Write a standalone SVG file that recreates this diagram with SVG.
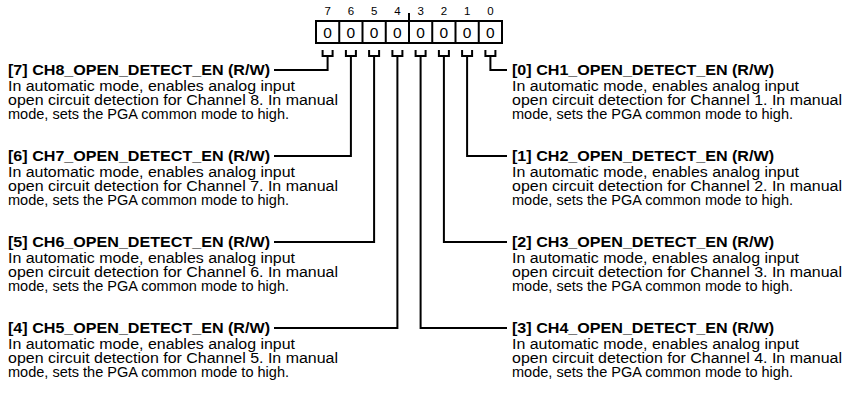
<svg xmlns="http://www.w3.org/2000/svg" width="845" height="395" viewBox="0 0 845 395">
<style>
.bn{font-family:"Liberation Sans",Arial,sans-serif;font-size:11.5px;fill:#000;text-anchor:middle}
.bv{font-family:"Liberation Sans",Arial,sans-serif;font-size:15.5px;fill:#000;text-anchor:middle}
.h{font-family:"Liberation Sans",Arial,sans-serif;font-size:15.5px;font-weight:bold;fill:#000}
.t{font-family:"Liberation Sans",Arial,sans-serif;font-size:15.5px;fill:#000}
.ln{fill:none;stroke:#000;stroke-width:2}
</style>
<rect width="845" height="395" fill="#fff"/>
<g id="register">
<rect class="ln" x="316" y="21" width="186" height="22"/>
<path class="ln" d="M339.25,21V43M362.5,21V43M385.75,21V43M409,13V43M432.25,21V43M455.5,21V43M478.75,21V43"/>
<text class="bn" x="327.6" y="15">7</text>
<text class="bn" x="350.9" y="15">6</text>
<text class="bn" x="374.1" y="15">5</text>
<text class="bn" x="397.4" y="15">4</text>
<text class="bn" x="420.6" y="15">3</text>
<text class="bn" x="443.9" y="15">2</text>
<text class="bn" x="467.1" y="15">1</text>
<text class="bn" x="490.4" y="15">0</text>
<text class="bv" x="327.6" y="37.5">0</text>
<text class="bv" x="350.9" y="37.5">0</text>
<text class="bv" x="374.1" y="37.5">0</text>
<text class="bv" x="397.4" y="37.5">0</text>
<text class="bv" x="420.6" y="37.5">0</text>
<text class="bv" x="443.9" y="37.5">0</text>
<text class="bv" x="467.1" y="37.5">0</text>
<text class="bv" x="490.4" y="37.5">0</text>
</g>
<g id="connectors">
<path class="ln" d="M322.6,50V56H332.6V50M327.6,56V70H274"/>
<path class="ln" d="M345.9,50V56H355.9V50M350.9,56V156H274"/>
<path class="ln" d="M369.1,50V56H379.1V50M374.1,56V242H274"/>
<path class="ln" d="M392.4,50V56H402.4V50M397.4,56V328H274"/>
<path class="ln" d="M415.6,50V56H425.6V50M420.6,56V328H507"/>
<path class="ln" d="M438.9,50V56H448.9V50M443.9,56V242H507"/>
<path class="ln" d="M462.1,50V56H472.1V50M467.1,56V156H507"/>
<path class="ln" d="M485.4,50V56H495.4V50M490.4,56V70H507"/>
</g>
<g id="bit7">
<text class="h" x="8" y="75" textLength="262" lengthAdjust="spacingAndGlyphs">[7] CH8_OPEN_DETECT_EN (R/W)</text>
<text class="t" x="8" y="91" textLength="287" lengthAdjust="spacingAndGlyphs">In automatic mode, enables analog input</text>
<text class="t" x="8" y="105" textLength="330" lengthAdjust="spacingAndGlyphs">open circuit detection for Channel 8. In manual</text>
<text class="t" x="8" y="119" textLength="281" lengthAdjust="spacingAndGlyphs">mode, sets the PGA common mode to high.</text>
</g>
<g id="bit6">
<text class="h" x="8" y="161" textLength="262" lengthAdjust="spacingAndGlyphs">[6] CH7_OPEN_DETECT_EN (R/W)</text>
<text class="t" x="8" y="177" textLength="287" lengthAdjust="spacingAndGlyphs">In automatic mode, enables analog input</text>
<text class="t" x="8" y="191" textLength="330" lengthAdjust="spacingAndGlyphs">open circuit detection for Channel 7. In manual</text>
<text class="t" x="8" y="205" textLength="281" lengthAdjust="spacingAndGlyphs">mode, sets the PGA common mode to high.</text>
</g>
<g id="bit5">
<text class="h" x="8" y="247" textLength="262" lengthAdjust="spacingAndGlyphs">[5] CH6_OPEN_DETECT_EN (R/W)</text>
<text class="t" x="8" y="263" textLength="287" lengthAdjust="spacingAndGlyphs">In automatic mode, enables analog input</text>
<text class="t" x="8" y="277" textLength="330" lengthAdjust="spacingAndGlyphs">open circuit detection for Channel 6. In manual</text>
<text class="t" x="8" y="291" textLength="281" lengthAdjust="spacingAndGlyphs">mode, sets the PGA common mode to high.</text>
</g>
<g id="bit4">
<text class="h" x="8" y="333" textLength="262" lengthAdjust="spacingAndGlyphs">[4] CH5_OPEN_DETECT_EN (R/W)</text>
<text class="t" x="8" y="349" textLength="287" lengthAdjust="spacingAndGlyphs">In automatic mode, enables analog input</text>
<text class="t" x="8" y="363" textLength="330" lengthAdjust="spacingAndGlyphs">open circuit detection for Channel 5. In manual</text>
<text class="t" x="8" y="377" textLength="281" lengthAdjust="spacingAndGlyphs">mode, sets the PGA common mode to high.</text>
</g>
<g id="bit0">
<text class="h" x="512" y="75" textLength="262" lengthAdjust="spacingAndGlyphs">[0] CH1_OPEN_DETECT_EN (R/W)</text>
<text class="t" x="512" y="91" textLength="287" lengthAdjust="spacingAndGlyphs">In automatic mode, enables analog input</text>
<text class="t" x="512" y="105" textLength="330" lengthAdjust="spacingAndGlyphs">open circuit detection for Channel 1. In manual</text>
<text class="t" x="512" y="119" textLength="281" lengthAdjust="spacingAndGlyphs">mode, sets the PGA common mode to high.</text>
</g>
<g id="bit1">
<text class="h" x="512" y="161" textLength="262" lengthAdjust="spacingAndGlyphs">[1] CH2_OPEN_DETECT_EN (R/W)</text>
<text class="t" x="512" y="177" textLength="287" lengthAdjust="spacingAndGlyphs">In automatic mode, enables analog input</text>
<text class="t" x="512" y="191" textLength="330" lengthAdjust="spacingAndGlyphs">open circuit detection for Channel 2. In manual</text>
<text class="t" x="512" y="205" textLength="281" lengthAdjust="spacingAndGlyphs">mode, sets the PGA common mode to high.</text>
</g>
<g id="bit2">
<text class="h" x="512" y="247" textLength="262" lengthAdjust="spacingAndGlyphs">[2] CH3_OPEN_DETECT_EN (R/W)</text>
<text class="t" x="512" y="263" textLength="287" lengthAdjust="spacingAndGlyphs">In automatic mode, enables analog input</text>
<text class="t" x="512" y="277" textLength="330" lengthAdjust="spacingAndGlyphs">open circuit detection for Channel 3. In manual</text>
<text class="t" x="512" y="291" textLength="281" lengthAdjust="spacingAndGlyphs">mode, sets the PGA common mode to high.</text>
</g>
<g id="bit3">
<text class="h" x="512" y="333" textLength="262" lengthAdjust="spacingAndGlyphs">[3] CH4_OPEN_DETECT_EN (R/W)</text>
<text class="t" x="512" y="349" textLength="287" lengthAdjust="spacingAndGlyphs">In automatic mode, enables analog input</text>
<text class="t" x="512" y="363" textLength="330" lengthAdjust="spacingAndGlyphs">open circuit detection for Channel 4. In manual</text>
<text class="t" x="512" y="377" textLength="281" lengthAdjust="spacingAndGlyphs">mode, sets the PGA common mode to high.</text>
</g>
</svg>
